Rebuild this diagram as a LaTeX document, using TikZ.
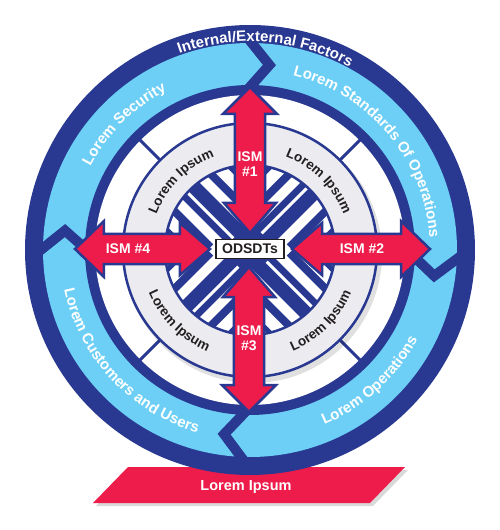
\documentclass[tikz,border=0pt]{standalone}
\usepackage{fontspec}
\setmainfont{Liberation Sans}
\usetikzlibrary{decorations.text,shadows}
\definecolor{navy}{RGB}{41,57,145}
\definecolor{sky}{RGB}{109,207,246}
\definecolor{ismred}{RGB}{237,28,74}
\definecolor{ringgray}{RGB}{236,236,240}
\definecolor{txtblack}{RGB}{35,31,32}
\newcommand{\arclabel}[5]{%
  \path[decorate, decoration={text along path, text align=center, text={|#1|#5}}] (#2:#4) arc (#2:#3:#4);}
\tikzset{
  arrowshape/.style={fill=ismred, draw=navy, line width=2.5pt, line join=miter},
  ismlabel/.style={text=white, font=\bfseries\fontsize{14}{15}\selectfont, align=center, inner sep=0pt},
  chevron/.style={draw=navy, line width=10pt, line join=miter},
  spoke/.style={draw=navy, line width=3pt},
}
\begin{document}
\begin{tikzpicture}[x=1pt,y=1pt]
\useasboundingbox (-250,-280) rectangle (250,250);
% banner
\fill[ismred, drop shadow={opacity=0.3,shadow xshift=3pt,shadow yshift=-3pt}] (-122,-217) -- (155,-217) -- (120,-253) -- (-157,-253) -- cycle;
\node[text=white, font=\bfseries\fontsize{14.5}{15}\selectfont] (bannerlabel) at (-4,-237) {Lorem Ipsum};
% rings
\fill[navy] (0,0) circle (225);
\fill[sky] (0,0) circle (207);
\fill[navy] (0,0) circle (165);
\fill[white] (0,0) circle (155);
% chevrons
\foreach \t in {91,-1,269,181}{
  \draw[chevron] (\t:214) -- (\t-7:186) -- (\t:160);
}
% outer texts
\arclabel{\bfseries\fontsize{15}{15}\selectfont\color{white}}{135.6}{35.6}{208.5}{Internal/External Factors}
\arclabel{\bfseries\fontsize{15}{15}\selectfont\color{white}}{175}{95}{180}{Lorem Security}
\arclabel{\bfseries\fontsize{15}{15}\selectfont\color{white}}{100}{-20}{180}{Lorem Standards Of Operations}
\arclabel{\bfseries\fontsize{15}{15}\selectfont\color{white}}{-97.5}{2.5}{190}{Lorem Operations}
\arclabel{\bfseries\fontsize{15}{15}\selectfont\color{white}}{163}{283}{190}{Lorem Customers and Users}
% spokes
\foreach \a in {45,135,225,315}{
  \draw[spoke] (\a:126) -- (\a:156);
}
% gray ring with soft shadow
\fill[black, opacity=0.12] (3,-4) circle (129);
\draw[navy, line width=2.5pt, fill=ringgray] (0,0) circle (127);
% inner disc
\fill[white] (0,0) circle (85);
\foreach \a in {45,135,225,315}{
  \begin{scope}
    \clip (0,0) -- (\a-45:90) arc (\a-45:\a+45:90) -- cycle;
    \clip (0,0) circle (85);
    \begin{scope}[rotate=\a]
      \fill[navy] (0,-12) rectangle (90,12);
      \fill[white] (20,2) rectangle (90,5);
      \fill[navy] (30,22) rectangle (90,30);
      \fill[navy] (30,-30) rectangle (90,-22);
      \fill[navy] (58,42) rectangle (90,47);
      \fill[navy] (58,-47) rectangle (90,-42);
    \end{scope}
  \end{scope}
}
\draw[navy, line width=2.5pt] (0,0) circle (85);
% gray ring texts
\arclabel{\bfseries\fontsize{13.5}{14}\selectfont\color{txtblack}}{165}{105}{100}{Lorem Ipsum}
\arclabel{\bfseries\fontsize{13.5}{14}\selectfont\color{txtblack}}{75}{15}{100}{Lorem Ipsum}
\arclabel{\bfseries\fontsize{13.5}{14}\selectfont\color{txtblack}}{195}{255}{110}{Lorem Ipsum}
\arclabel{\bfseries\fontsize{13.5}{14}\selectfont\color{txtblack}}{285}{345}{110}{Lorem Ipsum}
% arrows
\draw[arrowshape] (0,163) -- (27,136) -- (15,136) -- (15,47) -- (26,47) -- (0,17) -- (-26,47) -- (-15,47) -- (-15,136) -- (-27,136) -- cycle;
\draw[arrowshape] (-1,-162) -- (26,-135) -- (14,-135) -- (14,-47) -- (25,-47) -- (-1,-17) -- (-27,-47) -- (-16,-47) -- (-16,-135) -- (-28,-135) -- cycle;
\draw[arrowshape] (-175,1) -- (-146,29) -- (-146,16) -- (-70,16) -- (-70,27) -- (-40,1) -- (-70,-25) -- (-70,-14) -- (-146,-14) -- (-146,-27) -- cycle;
\draw[arrowshape] (180,1) -- (151,29) -- (151,16) -- (72,16) -- (72,27) -- (42,1) -- (72,-25) -- (72,-14) -- (151,-14) -- (151,-27) -- cycle;
\node[ismlabel] (ism1) at (0,86) {ISM\\\#1};
\node[ismlabel] (ism3) at (-1,-88) {ISM\\\#3};
\node[ismlabel] (ism4) at (-122,1) {ISM \#4};
\node[ismlabel] (ism2) at (112,1) {ISM \#2};
\node[draw=txtblack, fill=white, line width=1.3pt, minimum width=68pt, minimum height=19pt, inner sep=1pt, font=\bfseries\fontsize{14}{14}\selectfont, text=txtblack] (core) at (0,1) {ODSDTs};
\end{tikzpicture}
\end{document}
